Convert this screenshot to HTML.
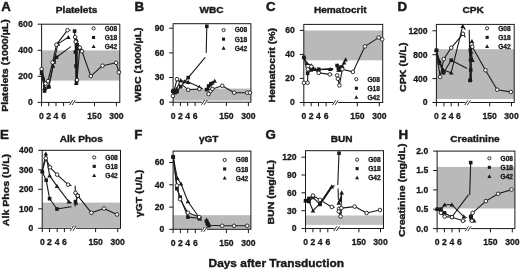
<!DOCTYPE html>
<html lang="en">
<head>
<meta charset="utf-8">
<title>Days after Transduction</title>
<style>
html,body{margin:0;padding:0;background:#fff;}
body{width:520px;height:271px;overflow:hidden;}
svg{display:block;}
svg text{font-family:"Liberation Sans",Arial,Helvetica,sans-serif;font-weight:700;stroke:#1a1a1a;stroke-linejoin:round;}
</style>
</head>
<body>
<svg width="520" height="271" viewBox="0 0 520 271" fill="#1a1a1a">
<rect x="0" y="0" width="520" height="271" fill="#fff"/>
<rect x="41.6" y="50.4" width="78.2" height="30.2" fill="#b9b9b9"/>
<rect x="41.6" y="24.2" width="78.2" height="78.2" fill="none" stroke="#1a1a1a" stroke-width="1"/>
<line x1="37.6" y1="24.2" x2="41.6" y2="24.2" stroke="#1a1a1a" stroke-width="1"/>
<text x="32.7" y="27.1" font-size="8.6" text-anchor="end" stroke-width="0.3">600</text>
<line x1="37.6" y1="50.3" x2="41.6" y2="50.3" stroke="#1a1a1a" stroke-width="1"/>
<text x="32.7" y="53.2" font-size="8.6" text-anchor="end" stroke-width="0.3">400</text>
<line x1="37.6" y1="76.3" x2="41.6" y2="76.3" stroke="#1a1a1a" stroke-width="1"/>
<text x="32.7" y="79.2" font-size="8.6" text-anchor="end" stroke-width="0.3">200</text>
<line x1="37.6" y1="102.4" x2="41.6" y2="102.4" stroke="#1a1a1a" stroke-width="1"/>
<text x="32.7" y="105.3" font-size="8.6" text-anchor="end" stroke-width="0.3">0</text>
<line x1="41.5" y1="102.4" x2="41.5" y2="106.2" stroke="#1a1a1a" stroke-width="1"/>
<text x="41.5" y="118.7" font-size="8.6" text-anchor="middle" stroke-width="0.3">0</text>
<line x1="48.7" y1="102.4" x2="48.7" y2="106.2" stroke="#1a1a1a" stroke-width="1"/>
<text x="48.7" y="118.7" font-size="8.6" text-anchor="middle" stroke-width="0.3">2</text>
<line x1="56" y1="102.4" x2="56" y2="106.2" stroke="#1a1a1a" stroke-width="1"/>
<text x="56" y="118.7" font-size="8.6" text-anchor="middle" stroke-width="0.3">4</text>
<line x1="63.6" y1="102.4" x2="63.6" y2="106.2" stroke="#1a1a1a" stroke-width="1"/>
<text x="63.6" y="118.7" font-size="8.6" text-anchor="middle" stroke-width="0.3">6</text>
<line x1="94.5" y1="102.4" x2="94.5" y2="106.2" stroke="#1a1a1a" stroke-width="1"/>
<text x="94.5" y="118.7" font-size="8.6" text-anchor="middle" stroke-width="0.3">150</text>
<line x1="116.4" y1="102.4" x2="116.4" y2="106.2" stroke="#1a1a1a" stroke-width="1"/>
<text x="116.4" y="118.7" font-size="8.6" text-anchor="middle" stroke-width="0.3">300</text>
<rect x="70.2" y="101.2" width="5" height="2.4" fill="#fff"/>
<line x1="69.5" y1="105" x2="72.7" y2="100.2" stroke="#1a1a1a" stroke-width="0.9"/>
<line x1="72.1" y1="105" x2="75.3" y2="100.2" stroke="#1a1a1a" stroke-width="0.9"/>
<polyline points="41.6,69 45.5,83.6 48,81 52.6,62.5 56.5,44.7 67.5,30.2 70.2,30.2" fill="none" stroke="#1a1a1a" stroke-width="1.1" stroke-linejoin="round" stroke-linecap="round"/>
<polyline points="75.2,37 75.7,41.7 77,80 79.8,47.6 82,51.3 90.8,76.1 102.5,65.7 116.1,62.8 118.9,72.3" fill="none" stroke="#1a1a1a" stroke-width="1.1" stroke-linejoin="round" stroke-linecap="round"/>
<polyline points="41.6,72 44.6,91 48.8,87 54,62 56.5,57.2 70.5,46.9" fill="none" stroke="#1a1a1a" stroke-width="1.1" stroke-linejoin="round" stroke-linecap="round"/>
<polyline points="74.6,31.1 75.4,52 76,66 76.5,82 77.2,45 78.3,48.5" fill="none" stroke="#1a1a1a" stroke-width="1.1" stroke-linejoin="round" stroke-linecap="round"/>
<polyline points="41.6,73.3 44.6,88 48.8,86 53,66 57.9,43.9 68.3,37.3" fill="none" stroke="#1a1a1a" stroke-width="1.1" stroke-linejoin="round" stroke-linecap="round"/>
<polyline points="76.2,83.1 76.6,40 78.6,46 80.4,48" fill="none" stroke="#1a1a1a" stroke-width="1.1" stroke-linejoin="round" stroke-linecap="round"/>
<polyline points="76.2,47 76.6,82" fill="none" stroke="#1a1a1a" stroke-width="2.2" stroke-linejoin="round" stroke-linecap="round"/>
<polyline points="43.6,78 44.8,90" fill="none" stroke="#1a1a1a" stroke-width="1.8" stroke-linejoin="round" stroke-linecap="round"/>
<rect x="39.8" y="70.2" width="3.6" height="3.6" fill="#1a1a1a"/>
<rect x="42.8" y="89.2" width="3.6" height="3.6" fill="#1a1a1a"/>
<rect x="47" y="85.2" width="3.6" height="3.6" fill="#1a1a1a"/>
<rect x="52.2" y="60.2" width="3.6" height="3.6" fill="#1a1a1a"/>
<rect x="54.7" y="55.4" width="3.6" height="3.6" fill="#1a1a1a"/>
<rect x="72.8" y="29.3" width="3.6" height="3.6" fill="#1a1a1a"/>
<rect x="73.6" y="50.2" width="3.6" height="3.6" fill="#1a1a1a"/>
<rect x="74.2" y="64.2" width="3.6" height="3.6" fill="#1a1a1a"/>
<rect x="74.7" y="80.2" width="3.6" height="3.6" fill="#1a1a1a"/>
<rect x="75.4" y="43.2" width="3.6" height="3.6" fill="#1a1a1a"/>
<rect x="76.5" y="46.7" width="3.6" height="3.6" fill="#1a1a1a"/>
<polygon points="41.6,71 39.3,75.1 43.9,75.1" fill="#1a1a1a"/>
<polygon points="44.6,85.7 42.3,89.8 46.9,89.8" fill="#1a1a1a"/>
<polygon points="48.8,83.7 46.5,87.8 51.1,87.8" fill="#1a1a1a"/>
<polygon points="53,63.7 50.7,67.8 55.3,67.8" fill="#1a1a1a"/>
<polygon points="57.9,41.6 55.6,45.7 60.2,45.7" fill="#1a1a1a"/>
<polygon points="68.3,35 66,39.1 70.6,39.1" fill="#1a1a1a"/>
<polygon points="76.2,80.8 73.9,84.9 78.5,84.9" fill="#1a1a1a"/>
<polygon points="76.6,37.7 74.3,41.8 78.9,41.8" fill="#1a1a1a"/>
<polygon points="78.6,43.7 76.3,47.8 80.9,47.8" fill="#1a1a1a"/>
<polygon points="80.4,45.7 78.1,49.8 82.7,49.8" fill="#1a1a1a"/>
<circle cx="41.6" cy="69" r="1.8" fill="#fff" stroke="#1a1a1a" stroke-width="0.9"/>
<circle cx="45.5" cy="83.6" r="1.8" fill="#fff" stroke="#1a1a1a" stroke-width="0.9"/>
<circle cx="48" cy="81" r="1.8" fill="#fff" stroke="#1a1a1a" stroke-width="0.9"/>
<circle cx="52.6" cy="62.5" r="1.8" fill="#fff" stroke="#1a1a1a" stroke-width="0.9"/>
<circle cx="56.5" cy="44.7" r="1.8" fill="#fff" stroke="#1a1a1a" stroke-width="0.9"/>
<circle cx="67.5" cy="30.2" r="1.8" fill="#fff" stroke="#1a1a1a" stroke-width="0.9"/>
<circle cx="75.2" cy="37" r="1.8" fill="#fff" stroke="#1a1a1a" stroke-width="0.9"/>
<circle cx="75.7" cy="41.7" r="1.8" fill="#fff" stroke="#1a1a1a" stroke-width="0.9"/>
<circle cx="77" cy="80" r="1.8" fill="#fff" stroke="#1a1a1a" stroke-width="0.9"/>
<circle cx="79.8" cy="47.6" r="1.8" fill="#fff" stroke="#1a1a1a" stroke-width="0.9"/>
<circle cx="82" cy="51.3" r="1.8" fill="#fff" stroke="#1a1a1a" stroke-width="0.9"/>
<circle cx="90.8" cy="76.1" r="1.8" fill="#fff" stroke="#1a1a1a" stroke-width="0.9"/>
<circle cx="102.5" cy="65.7" r="1.8" fill="#fff" stroke="#1a1a1a" stroke-width="0.9"/>
<circle cx="116.1" cy="62.8" r="1.8" fill="#fff" stroke="#1a1a1a" stroke-width="0.9"/>
<circle cx="118.9" cy="72.3" r="1.8" fill="#fff" stroke="#1a1a1a" stroke-width="0.9"/>
<circle cx="93.6" cy="28.4" r="1.6" fill="#fff" stroke="#1a1a1a" stroke-width="0.9"/>
<text x="104.7" y="30.6" font-size="6.6" text-anchor="start" stroke-width="0.3">G08</text>
<rect x="92" y="35.9" width="3.1" height="3.1" fill="#1a1a1a"/>
<text x="104.7" y="39.9" font-size="6.6" text-anchor="start" stroke-width="0.3">G18</text>
<polygon points="93.6,44.4 91.6,48 95.6,48" fill="#1a1a1a"/>
<text x="104.7" y="49.1" font-size="6.6" text-anchor="start" stroke-width="0.3">G42</text>
<text transform="translate(76.6,13.3) scale(1.035,1)" font-size="9.76" text-anchor="middle" stroke-width="0.4">Platelets</text>
<text x="1.2" y="11" font-size="13.3" text-anchor="start" stroke-width="0.5">A</text>
<text transform="translate(8.1,65.5) rotate(-90) scale(1.075,1)" font-size="9.86" text-anchor="middle" stroke-width="0.4">Platelets (1000/µL)</text>
<rect x="173.1" y="88.6" width="77.8" height="11.9" fill="#b9b9b9"/>
<rect x="173.1" y="23.7" width="77.8" height="78.5" fill="none" stroke="#1a1a1a" stroke-width="1"/>
<line x1="169.1" y1="28.2" x2="173.1" y2="28.2" stroke="#1a1a1a" stroke-width="1"/>
<text x="164.2" y="31.1" font-size="8.6" text-anchor="end" stroke-width="0.3">90</text>
<line x1="169.1" y1="52.9" x2="173.1" y2="52.9" stroke="#1a1a1a" stroke-width="1"/>
<text x="164.2" y="55.8" font-size="8.6" text-anchor="end" stroke-width="0.3">60</text>
<line x1="169.1" y1="77.5" x2="173.1" y2="77.5" stroke="#1a1a1a" stroke-width="1"/>
<text x="164.2" y="80.4" font-size="8.6" text-anchor="end" stroke-width="0.3">30</text>
<line x1="169.1" y1="102.2" x2="173.1" y2="102.2" stroke="#1a1a1a" stroke-width="1"/>
<text x="164.2" y="105.1" font-size="8.6" text-anchor="end" stroke-width="0.3">0</text>
<line x1="173.1" y1="102.2" x2="173.1" y2="106" stroke="#1a1a1a" stroke-width="1"/>
<text x="173.1" y="118.5" font-size="8.6" text-anchor="middle" stroke-width="0.3">0</text>
<line x1="180.4" y1="102.2" x2="180.4" y2="106" stroke="#1a1a1a" stroke-width="1"/>
<text x="180.4" y="118.5" font-size="8.6" text-anchor="middle" stroke-width="0.3">2</text>
<line x1="187.7" y1="102.2" x2="187.7" y2="106" stroke="#1a1a1a" stroke-width="1"/>
<text x="187.7" y="118.5" font-size="8.6" text-anchor="middle" stroke-width="0.3">4</text>
<line x1="195.1" y1="102.2" x2="195.1" y2="106" stroke="#1a1a1a" stroke-width="1"/>
<text x="195.1" y="118.5" font-size="8.6" text-anchor="middle" stroke-width="0.3">6</text>
<line x1="226.4" y1="102.2" x2="226.4" y2="106" stroke="#1a1a1a" stroke-width="1"/>
<text x="226.4" y="118.5" font-size="8.6" text-anchor="middle" stroke-width="0.3">150</text>
<line x1="248.4" y1="102.2" x2="248.4" y2="106" stroke="#1a1a1a" stroke-width="1"/>
<text x="248.4" y="118.5" font-size="8.6" text-anchor="middle" stroke-width="0.3">300</text>
<rect x="202.2" y="101" width="5" height="2.4" fill="#fff"/>
<line x1="201.5" y1="104.8" x2="204.7" y2="100" stroke="#1a1a1a" stroke-width="0.9"/>
<line x1="204.1" y1="104.8" x2="207.3" y2="100" stroke="#1a1a1a" stroke-width="0.9"/>
<polyline points="172.8,96 177,79.2 180.9,83.6 188.2,89.8 199.4,89 201.6,88.5" fill="none" stroke="#1a1a1a" stroke-width="1.1" stroke-linejoin="round" stroke-linecap="round"/>
<polyline points="208.6,94 210.5,91 212.4,89 222.2,85.8 234.2,92.7 247.2,92.7 249.9,92.7" fill="none" stroke="#1a1a1a" stroke-width="1.1" stroke-linejoin="round" stroke-linecap="round"/>
<polyline points="172.8,91.3 175,92.6 177,91.7 180.7,86.7 188.2,77.6 205,57.6" fill="none" stroke="#1a1a1a" stroke-width="1.1" stroke-linejoin="round" stroke-linecap="round"/>
<polyline points="206.2,52.5 206.8,26.3" fill="none" stroke="#1a1a1a" stroke-width="1.1" stroke-linejoin="round" stroke-linecap="round"/>
<polyline points="206.6,89.6 208.6,86 211,83.6" fill="none" stroke="#1a1a1a" stroke-width="1.1" stroke-linejoin="round" stroke-linecap="round"/>
<polyline points="172.8,90.2 174.5,91.6 176.5,89 180.7,80.4 184.7,81.5 188.2,82.1 199.4,87.1 202.2,88.6" fill="none" stroke="#1a1a1a" stroke-width="1.1" stroke-linejoin="round" stroke-linecap="round"/>
<polyline points="207.8,88.2 210,84.6 212.4,82.8 214.7,81" fill="none" stroke="#1a1a1a" stroke-width="1.1" stroke-linejoin="round" stroke-linecap="round"/>
<rect x="171" y="89.5" width="3.6" height="3.6" fill="#1a1a1a"/>
<rect x="173.2" y="90.8" width="3.6" height="3.6" fill="#1a1a1a"/>
<rect x="175.2" y="89.9" width="3.6" height="3.6" fill="#1a1a1a"/>
<rect x="178.9" y="84.9" width="3.6" height="3.6" fill="#1a1a1a"/>
<rect x="186.4" y="75.8" width="3.6" height="3.6" fill="#1a1a1a"/>
<rect x="205" y="24.5" width="3.6" height="3.6" fill="#1a1a1a"/>
<rect x="204.8" y="87.8" width="3.6" height="3.6" fill="#1a1a1a"/>
<rect x="206.8" y="84.2" width="3.6" height="3.6" fill="#1a1a1a"/>
<rect x="209.2" y="81.8" width="3.6" height="3.6" fill="#1a1a1a"/>
<polygon points="172.8,87.9 170.5,92 175.1,92" fill="#1a1a1a"/>
<polygon points="174.5,89.3 172.2,93.4 176.8,93.4" fill="#1a1a1a"/>
<polygon points="176.5,86.7 174.2,90.8 178.8,90.8" fill="#1a1a1a"/>
<polygon points="180.7,78.1 178.4,82.2 183,82.2" fill="#1a1a1a"/>
<polygon points="184.7,79.2 182.4,83.3 187,83.3" fill="#1a1a1a"/>
<polygon points="188.2,79.8 185.9,83.9 190.5,83.9" fill="#1a1a1a"/>
<polygon points="199.4,84.8 197.1,88.9 201.7,88.9" fill="#1a1a1a"/>
<polygon points="207.8,85.9 205.5,90 210.1,90" fill="#1a1a1a"/>
<polygon points="210,82.3 207.7,86.4 212.3,86.4" fill="#1a1a1a"/>
<polygon points="212.4,80.5 210.1,84.6 214.7,84.6" fill="#1a1a1a"/>
<polygon points="214.7,78.7 212.4,82.8 217,82.8" fill="#1a1a1a"/>
<circle cx="172.8" cy="96" r="1.8" fill="#fff" stroke="#1a1a1a" stroke-width="0.9"/>
<circle cx="177" cy="79.2" r="1.8" fill="#fff" stroke="#1a1a1a" stroke-width="0.9"/>
<circle cx="180.9" cy="83.6" r="1.8" fill="#fff" stroke="#1a1a1a" stroke-width="0.9"/>
<circle cx="188.2" cy="89.8" r="1.8" fill="#fff" stroke="#1a1a1a" stroke-width="0.9"/>
<circle cx="199.4" cy="89" r="1.8" fill="#fff" stroke="#1a1a1a" stroke-width="0.9"/>
<circle cx="208.6" cy="94" r="1.8" fill="#fff" stroke="#1a1a1a" stroke-width="0.9"/>
<circle cx="210.5" cy="91" r="1.8" fill="#fff" stroke="#1a1a1a" stroke-width="0.9"/>
<circle cx="212.4" cy="89" r="1.8" fill="#fff" stroke="#1a1a1a" stroke-width="0.9"/>
<circle cx="222.2" cy="85.8" r="1.8" fill="#fff" stroke="#1a1a1a" stroke-width="0.9"/>
<circle cx="234.2" cy="92.7" r="1.8" fill="#fff" stroke="#1a1a1a" stroke-width="0.9"/>
<circle cx="247.2" cy="92.7" r="1.8" fill="#fff" stroke="#1a1a1a" stroke-width="0.9"/>
<circle cx="249.9" cy="92.7" r="1.8" fill="#fff" stroke="#1a1a1a" stroke-width="0.9"/>
<circle cx="223.6" cy="30.1" r="1.6" fill="#fff" stroke="#1a1a1a" stroke-width="0.9"/>
<text x="234.7" y="32.4" font-size="6.6" text-anchor="start" stroke-width="0.3">G08</text>
<rect x="222" y="37.6" width="3.1" height="3.1" fill="#1a1a1a"/>
<text x="234.7" y="41.6" font-size="6.6" text-anchor="start" stroke-width="0.3">G18</text>
<polygon points="223.6,46.1 221.6,49.7 225.6,49.7" fill="#1a1a1a"/>
<text x="234.7" y="50.9" font-size="6.6" text-anchor="start" stroke-width="0.3">G42</text>
<text transform="translate(211.6,13.3) scale(1.035,1)" font-size="9.76" text-anchor="middle" stroke-width="0.4">WBC</text>
<text x="134.5" y="11" font-size="13.3" text-anchor="start" stroke-width="0.5">B</text>
<text transform="translate(141.4,64.5) rotate(-90) scale(1.075,1)" font-size="9.86" text-anchor="middle" stroke-width="0.4">WBC (1000/µL)</text>
<rect x="303.8" y="30.5" width="78.9" height="29.8" fill="#b9b9b9"/>
<rect x="303.8" y="24.4" width="78.9" height="78.1" fill="none" stroke="#1a1a1a" stroke-width="1"/>
<line x1="299.8" y1="30.4" x2="303.8" y2="30.4" stroke="#1a1a1a" stroke-width="1"/>
<text x="294.9" y="33.3" font-size="8.6" text-anchor="end" stroke-width="0.3">60</text>
<line x1="299.8" y1="54.4" x2="303.8" y2="54.4" stroke="#1a1a1a" stroke-width="1"/>
<text x="294.9" y="57.3" font-size="8.6" text-anchor="end" stroke-width="0.3">40</text>
<line x1="299.8" y1="78.4" x2="303.8" y2="78.4" stroke="#1a1a1a" stroke-width="1"/>
<text x="294.9" y="81.3" font-size="8.6" text-anchor="end" stroke-width="0.3">20</text>
<line x1="299.8" y1="102.5" x2="303.8" y2="102.5" stroke="#1a1a1a" stroke-width="1"/>
<text x="294.9" y="105.4" font-size="8.6" text-anchor="end" stroke-width="0.3">0</text>
<line x1="303.9" y1="102.5" x2="303.9" y2="106.3" stroke="#1a1a1a" stroke-width="1"/>
<text x="303.9" y="118.8" font-size="8.6" text-anchor="middle" stroke-width="0.3">0</text>
<line x1="311.2" y1="102.5" x2="311.2" y2="106.3" stroke="#1a1a1a" stroke-width="1"/>
<text x="311.2" y="118.8" font-size="8.6" text-anchor="middle" stroke-width="0.3">2</text>
<line x1="318.5" y1="102.5" x2="318.5" y2="106.3" stroke="#1a1a1a" stroke-width="1"/>
<text x="318.5" y="118.8" font-size="8.6" text-anchor="middle" stroke-width="0.3">4</text>
<line x1="326.1" y1="102.5" x2="326.1" y2="106.3" stroke="#1a1a1a" stroke-width="1"/>
<text x="326.1" y="118.8" font-size="8.6" text-anchor="middle" stroke-width="0.3">6</text>
<line x1="357.3" y1="102.5" x2="357.3" y2="106.3" stroke="#1a1a1a" stroke-width="1"/>
<text x="357.3" y="118.8" font-size="8.6" text-anchor="middle" stroke-width="0.3">150</text>
<line x1="379.3" y1="102.5" x2="379.3" y2="106.3" stroke="#1a1a1a" stroke-width="1"/>
<text x="379.3" y="118.8" font-size="8.6" text-anchor="middle" stroke-width="0.3">300</text>
<rect x="333.1" y="101.3" width="5" height="2.4" fill="#fff"/>
<line x1="332.4" y1="105.1" x2="335.6" y2="100.3" stroke="#1a1a1a" stroke-width="0.9"/>
<line x1="335" y1="105.1" x2="338.2" y2="100.3" stroke="#1a1a1a" stroke-width="0.9"/>
<polyline points="303.9,82.8 307.6,82.8 307.8,69.4 311.3,66.6 318.7,72.9 329.8,74.4 332,74.6" fill="none" stroke="#1a1a1a" stroke-width="1.1" stroke-linejoin="round" stroke-linecap="round"/>
<polyline points="337.1,75.4 337.9,78.8 339.4,85.4 342.3,69.2 352.9,71.9 364.9,46.4 378.7,37.6 382.2,39.4" fill="none" stroke="#1a1a1a" stroke-width="1.1" stroke-linejoin="round" stroke-linecap="round"/>
<polyline points="303.9,57.4 307.6,73.3 311.3,69.9 318.7,69.2 332.7,68.5" fill="none" stroke="#1a1a1a" stroke-width="1.1" stroke-linejoin="round" stroke-linecap="round"/>
<polyline points="337.1,65.5 338.3,68 339.5,69.9 341,67" fill="none" stroke="#1a1a1a" stroke-width="1.1" stroke-linejoin="round" stroke-linecap="round"/>
<polyline points="303.9,57 306.9,63.3 311.3,65.5 315,69.2 318.7,69.8 330.2,69.2 332.7,69.4" fill="none" stroke="#1a1a1a" stroke-width="1.1" stroke-linejoin="round" stroke-linecap="round"/>
<polyline points="338.5,70 340.8,69.2 342.3,66.2 344.1,62.6 345.6,59.6" fill="none" stroke="#1a1a1a" stroke-width="1.1" stroke-linejoin="round" stroke-linecap="round"/>
<rect x="302.1" y="55.6" width="3.6" height="3.6" fill="#1a1a1a"/>
<rect x="305.8" y="71.5" width="3.6" height="3.6" fill="#1a1a1a"/>
<rect x="309.5" y="68.1" width="3.6" height="3.6" fill="#1a1a1a"/>
<rect x="316.9" y="67.4" width="3.6" height="3.6" fill="#1a1a1a"/>
<rect x="335.3" y="63.7" width="3.6" height="3.6" fill="#1a1a1a"/>
<rect x="336.5" y="66.2" width="3.6" height="3.6" fill="#1a1a1a"/>
<rect x="337.7" y="68.1" width="3.6" height="3.6" fill="#1a1a1a"/>
<rect x="339.2" y="65.2" width="3.6" height="3.6" fill="#1a1a1a"/>
<polygon points="303.9,54.7 301.6,58.8 306.2,58.8" fill="#1a1a1a"/>
<polygon points="306.9,61 304.6,65.1 309.2,65.1" fill="#1a1a1a"/>
<polygon points="311.3,63.2 309,67.3 313.6,67.3" fill="#1a1a1a"/>
<polygon points="315,66.9 312.7,71 317.3,71" fill="#1a1a1a"/>
<polygon points="318.7,67.5 316.4,71.6 321,71.6" fill="#1a1a1a"/>
<polygon points="330.2,66.9 327.9,71 332.5,71" fill="#1a1a1a"/>
<polygon points="338.5,67.7 336.2,71.8 340.8,71.8" fill="#1a1a1a"/>
<polygon points="340.8,66.9 338.5,71 343.1,71" fill="#1a1a1a"/>
<polygon points="342.3,63.9 340,68 344.6,68" fill="#1a1a1a"/>
<polygon points="344.1,60.3 341.8,64.4 346.4,64.4" fill="#1a1a1a"/>
<polygon points="345.6,57.3 343.3,61.4 347.9,61.4" fill="#1a1a1a"/>
<circle cx="303.9" cy="82.8" r="1.8" fill="#fff" stroke="#1a1a1a" stroke-width="0.9"/>
<circle cx="307.6" cy="82.8" r="1.8" fill="#fff" stroke="#1a1a1a" stroke-width="0.9"/>
<circle cx="307.8" cy="69.4" r="1.8" fill="#fff" stroke="#1a1a1a" stroke-width="0.9"/>
<circle cx="311.3" cy="66.6" r="1.8" fill="#fff" stroke="#1a1a1a" stroke-width="0.9"/>
<circle cx="318.7" cy="72.9" r="1.8" fill="#fff" stroke="#1a1a1a" stroke-width="0.9"/>
<circle cx="329.8" cy="74.4" r="1.8" fill="#fff" stroke="#1a1a1a" stroke-width="0.9"/>
<circle cx="337.1" cy="75.4" r="1.8" fill="#fff" stroke="#1a1a1a" stroke-width="0.9"/>
<circle cx="337.9" cy="78.8" r="1.8" fill="#fff" stroke="#1a1a1a" stroke-width="0.9"/>
<circle cx="339.4" cy="85.4" r="1.8" fill="#fff" stroke="#1a1a1a" stroke-width="0.9"/>
<circle cx="342.3" cy="69.2" r="1.8" fill="#fff" stroke="#1a1a1a" stroke-width="0.9"/>
<circle cx="352.9" cy="71.9" r="1.8" fill="#fff" stroke="#1a1a1a" stroke-width="0.9"/>
<circle cx="364.9" cy="46.4" r="1.8" fill="#fff" stroke="#1a1a1a" stroke-width="0.9"/>
<circle cx="378.7" cy="37.6" r="1.8" fill="#fff" stroke="#1a1a1a" stroke-width="0.9"/>
<circle cx="382.2" cy="39.4" r="1.8" fill="#fff" stroke="#1a1a1a" stroke-width="0.9"/>
<circle cx="356.3" cy="79.2" r="1.6" fill="#fff" stroke="#1a1a1a" stroke-width="0.9"/>
<text x="367.4" y="81.5" font-size="6.6" text-anchor="start" stroke-width="0.3">G08</text>
<rect x="354.8" y="86.7" width="3.1" height="3.1" fill="#1a1a1a"/>
<text x="367.4" y="90.7" font-size="6.6" text-anchor="start" stroke-width="0.3">G18</text>
<polygon points="356.3,95.2 354.3,98.8 358.3,98.8" fill="#1a1a1a"/>
<text x="367.4" y="100" font-size="6.6" text-anchor="start" stroke-width="0.3">G42</text>
<text transform="translate(340.3,13.3) scale(1.035,1)" font-size="9.76" text-anchor="middle" stroke-width="0.4">Hematocrit</text>
<text x="265.9" y="11" font-size="13.3" text-anchor="start" stroke-width="0.5">C</text>
<text transform="translate(274.5,65.2) rotate(-90) scale(1.075,1)" font-size="9.86" text-anchor="middle" stroke-width="0.4">Hematocrit (%)</text>
<rect x="436.4" y="49.2" width="77.8" height="49.8" fill="#b9b9b9"/>
<rect x="436.4" y="24.4" width="77.8" height="78.1" fill="none" stroke="#1a1a1a" stroke-width="1"/>
<line x1="432.4" y1="30.8" x2="436.4" y2="30.8" stroke="#1a1a1a" stroke-width="1"/>
<text x="427.5" y="33.7" font-size="8.6" text-anchor="end" stroke-width="0.3">1200</text>
<line x1="432.4" y1="54.7" x2="436.4" y2="54.7" stroke="#1a1a1a" stroke-width="1"/>
<text x="427.5" y="57.6" font-size="8.6" text-anchor="end" stroke-width="0.3">800</text>
<line x1="432.4" y1="78.6" x2="436.4" y2="78.6" stroke="#1a1a1a" stroke-width="1"/>
<text x="427.5" y="81.5" font-size="8.6" text-anchor="end" stroke-width="0.3">400</text>
<line x1="432.4" y1="102.5" x2="436.4" y2="102.5" stroke="#1a1a1a" stroke-width="1"/>
<text x="427.5" y="105.4" font-size="8.6" text-anchor="end" stroke-width="0.3">0</text>
<line x1="436.4" y1="102.5" x2="436.4" y2="106.3" stroke="#1a1a1a" stroke-width="1"/>
<text x="436.4" y="118.8" font-size="8.6" text-anchor="middle" stroke-width="0.3">0</text>
<line x1="443.9" y1="102.5" x2="443.9" y2="106.3" stroke="#1a1a1a" stroke-width="1"/>
<text x="443.9" y="118.8" font-size="8.6" text-anchor="middle" stroke-width="0.3">2</text>
<line x1="451.2" y1="102.5" x2="451.2" y2="106.3" stroke="#1a1a1a" stroke-width="1"/>
<text x="451.2" y="118.8" font-size="8.6" text-anchor="middle" stroke-width="0.3">4</text>
<line x1="458.4" y1="102.5" x2="458.4" y2="106.3" stroke="#1a1a1a" stroke-width="1"/>
<text x="458.4" y="118.8" font-size="8.6" text-anchor="middle" stroke-width="0.3">6</text>
<line x1="489.7" y1="102.5" x2="489.7" y2="106.3" stroke="#1a1a1a" stroke-width="1"/>
<text x="489.7" y="118.8" font-size="8.6" text-anchor="middle" stroke-width="0.3">150</text>
<line x1="511.5" y1="102.5" x2="511.5" y2="106.3" stroke="#1a1a1a" stroke-width="1"/>
<text x="511.5" y="118.8" font-size="8.6" text-anchor="middle" stroke-width="0.3">300</text>
<rect x="465.4" y="101.3" width="5" height="2.4" fill="#fff"/>
<line x1="464.7" y1="105.1" x2="467.9" y2="100.3" stroke="#1a1a1a" stroke-width="0.9"/>
<line x1="467.3" y1="105.1" x2="470.5" y2="100.3" stroke="#1a1a1a" stroke-width="0.9"/>
<polyline points="436.6,52 440.1,76.9 443.8,59.1 451.2,47.8 463,33.8 465.2,36.8" fill="none" stroke="#1a1a1a" stroke-width="1.1" stroke-linejoin="round" stroke-linecap="round"/>
<polyline points="471.5,44.2 472.3,46.8 485.5,70.2 497.2,89.7 510.8,92" fill="none" stroke="#1a1a1a" stroke-width="1.1" stroke-linejoin="round" stroke-linecap="round"/>
<polyline points="436.4,50.3 439.4,63.1 443.5,72.7 451.2,60.2 466.7,68.3" fill="none" stroke="#1a1a1a" stroke-width="1.1" stroke-linejoin="round" stroke-linecap="round"/>
<polyline points="469.2,30.1 469.7,56" fill="none" stroke="#1a1a1a" stroke-width="1.1" stroke-linejoin="round" stroke-linecap="round"/>
<polyline points="470.4,50 470.6,60 470.7,70 470.1,80.4" fill="none" stroke="#1a1a1a" stroke-width="1.1" stroke-linejoin="round" stroke-linecap="round"/>
<polyline points="436.4,50.3 439.4,60.9 443.3,70 451.2,72.7 462.7,26.1 465.2,29.4" fill="none" stroke="#1a1a1a" stroke-width="1.1" stroke-linejoin="round" stroke-linecap="round"/>
<polyline points="471.9,41.2 471.2,52 472.6,60.2" fill="none" stroke="#1a1a1a" stroke-width="1.1" stroke-linejoin="round" stroke-linecap="round"/>
<polyline points="470.5,44 470.7,80" fill="none" stroke="#1a1a1a" stroke-width="2.4" stroke-linejoin="round" stroke-linecap="round"/>
<circle cx="436.5" cy="50.4" r="2" fill="#1a1a1a"/>
<circle cx="470.3" cy="80.3" r="2" fill="#1a1a1a"/>
<circle cx="443.5" cy="72.6" r="2" fill="#1a1a1a"/>
<rect x="434.6" y="48.5" width="3.6" height="3.6" fill="#1a1a1a"/>
<rect x="437.6" y="61.3" width="3.6" height="3.6" fill="#1a1a1a"/>
<rect x="441.7" y="70.9" width="3.6" height="3.6" fill="#1a1a1a"/>
<rect x="449.4" y="58.4" width="3.6" height="3.6" fill="#1a1a1a"/>
<rect x="468.6" y="48.2" width="3.6" height="3.6" fill="#1a1a1a"/>
<rect x="468.8" y="58.2" width="3.6" height="3.6" fill="#1a1a1a"/>
<rect x="468.9" y="68.2" width="3.6" height="3.6" fill="#1a1a1a"/>
<rect x="468.3" y="78.6" width="3.6" height="3.6" fill="#1a1a1a"/>
<polygon points="436.4,48 434.1,52.1 438.7,52.1" fill="#1a1a1a"/>
<polygon points="439.4,58.6 437.1,62.7 441.7,62.7" fill="#1a1a1a"/>
<polygon points="443.3,67.7 441,71.8 445.6,71.8" fill="#1a1a1a"/>
<polygon points="451.2,70.4 448.9,74.5 453.5,74.5" fill="#1a1a1a"/>
<polygon points="462.7,23.8 460.4,27.9 465,27.9" fill="#1a1a1a"/>
<polygon points="471.9,38.9 469.6,43 474.2,43" fill="#1a1a1a"/>
<polygon points="471.2,49.7 468.9,53.8 473.5,53.8" fill="#1a1a1a"/>
<polygon points="472.6,57.9 470.3,62 474.9,62" fill="#1a1a1a"/>
<circle cx="440.1" cy="76.9" r="1.8" fill="#fff" stroke="#1a1a1a" stroke-width="0.9"/>
<circle cx="443.8" cy="59.1" r="1.8" fill="#fff" stroke="#1a1a1a" stroke-width="0.9"/>
<circle cx="451.2" cy="47.8" r="1.8" fill="#fff" stroke="#1a1a1a" stroke-width="0.9"/>
<circle cx="463" cy="33.8" r="1.8" fill="#fff" stroke="#1a1a1a" stroke-width="0.9"/>
<circle cx="471.5" cy="44.2" r="1.8" fill="#fff" stroke="#1a1a1a" stroke-width="0.9"/>
<circle cx="472.3" cy="46.8" r="1.8" fill="#fff" stroke="#1a1a1a" stroke-width="0.9"/>
<circle cx="485.5" cy="70.2" r="1.8" fill="#fff" stroke="#1a1a1a" stroke-width="0.9"/>
<circle cx="497.2" cy="89.7" r="1.8" fill="#fff" stroke="#1a1a1a" stroke-width="0.9"/>
<circle cx="510.8" cy="92" r="1.8" fill="#fff" stroke="#1a1a1a" stroke-width="0.9"/>
<circle cx="487.1" cy="28.3" r="1.6" fill="#fff" stroke="#1a1a1a" stroke-width="0.9"/>
<text x="498.2" y="30.6" font-size="6.6" text-anchor="start" stroke-width="0.3">G08</text>
<rect x="485.6" y="35.8" width="3.1" height="3.1" fill="#1a1a1a"/>
<text x="498.2" y="39.8" font-size="6.6" text-anchor="start" stroke-width="0.3">G18</text>
<polygon points="487.1,44.3 485.1,47.9 489.1,47.9" fill="#1a1a1a"/>
<text x="498.2" y="49" font-size="6.6" text-anchor="start" stroke-width="0.3">G42</text>
<text transform="translate(473.1,13.3) scale(1.035,1)" font-size="9.76" text-anchor="middle" stroke-width="0.4">CPK</text>
<text x="397.5" y="11" font-size="13.3" text-anchor="start" stroke-width="0.5">D</text>
<text transform="translate(405.7,67.2) rotate(-90) scale(1.075,1)" font-size="9.86" text-anchor="middle" stroke-width="0.4">CPK (U/L)</text>
<rect x="42.2" y="202.6" width="78.3" height="24.7" fill="#b9b9b9"/>
<rect x="42.2" y="150.3" width="78.3" height="78" fill="none" stroke="#1a1a1a" stroke-width="1"/>
<line x1="38.2" y1="150.3" x2="42.2" y2="150.3" stroke="#1a1a1a" stroke-width="1"/>
<text x="33.3" y="153.2" font-size="8.6" text-anchor="end" stroke-width="0.3">400</text>
<line x1="38.2" y1="169.8" x2="42.2" y2="169.8" stroke="#1a1a1a" stroke-width="1"/>
<text x="33.3" y="172.7" font-size="8.6" text-anchor="end" stroke-width="0.3">300</text>
<line x1="38.2" y1="189.3" x2="42.2" y2="189.3" stroke="#1a1a1a" stroke-width="1"/>
<text x="33.3" y="192.2" font-size="8.6" text-anchor="end" stroke-width="0.3">200</text>
<line x1="38.2" y1="208.8" x2="42.2" y2="208.8" stroke="#1a1a1a" stroke-width="1"/>
<text x="33.3" y="211.7" font-size="8.6" text-anchor="end" stroke-width="0.3">100</text>
<line x1="38.2" y1="228.3" x2="42.2" y2="228.3" stroke="#1a1a1a" stroke-width="1"/>
<text x="33.3" y="231.2" font-size="8.6" text-anchor="end" stroke-width="0.3">0</text>
<line x1="42.3" y1="228.3" x2="42.3" y2="232.1" stroke="#1a1a1a" stroke-width="1"/>
<text x="42.3" y="244.6" font-size="8.6" text-anchor="middle" stroke-width="0.3">0</text>
<line x1="49.5" y1="228.3" x2="49.5" y2="232.1" stroke="#1a1a1a" stroke-width="1"/>
<text x="49.5" y="244.6" font-size="8.6" text-anchor="middle" stroke-width="0.3">2</text>
<line x1="57.2" y1="228.3" x2="57.2" y2="232.1" stroke="#1a1a1a" stroke-width="1"/>
<text x="57.2" y="244.6" font-size="8.6" text-anchor="middle" stroke-width="0.3">4</text>
<line x1="64.4" y1="228.3" x2="64.4" y2="232.1" stroke="#1a1a1a" stroke-width="1"/>
<text x="64.4" y="244.6" font-size="8.6" text-anchor="middle" stroke-width="0.3">6</text>
<line x1="95.6" y1="228.3" x2="95.6" y2="232.1" stroke="#1a1a1a" stroke-width="1"/>
<text x="95.6" y="244.6" font-size="8.6" text-anchor="middle" stroke-width="0.3">150</text>
<line x1="117.7" y1="228.3" x2="117.7" y2="232.1" stroke="#1a1a1a" stroke-width="1"/>
<text x="117.7" y="244.6" font-size="8.6" text-anchor="middle" stroke-width="0.3">300</text>
<rect x="71" y="227.1" width="5" height="2.4" fill="#fff"/>
<line x1="70.3" y1="230.9" x2="73.5" y2="226.1" stroke="#1a1a1a" stroke-width="0.9"/>
<line x1="72.9" y1="230.9" x2="76.1" y2="226.1" stroke="#1a1a1a" stroke-width="0.9"/>
<polyline points="42.3,170.9 45.8,158.3 50,167.3 57.1,174.6 68.1,184.6 71,185.4" fill="none" stroke="#1a1a1a" stroke-width="1.1" stroke-linejoin="round" stroke-linecap="round"/>
<polyline points="75.5,192.8 77.7,195.7 91.4,212.8 104,208.5 117,214.5" fill="none" stroke="#1a1a1a" stroke-width="1.1" stroke-linejoin="round" stroke-linecap="round"/>
<polyline points="42.3,171.7 46.2,180.2 49.6,198.7 57,209 71,206.8" fill="none" stroke="#1a1a1a" stroke-width="1.1" stroke-linejoin="round" stroke-linecap="round"/>
<polyline points="75.2,186.1 75.3,192" fill="none" stroke="#1a1a1a" stroke-width="1.1" stroke-linejoin="round" stroke-linecap="round"/>
<polyline points="77.9,196.2 75.5,201.6 75.2,206.1" fill="none" stroke="#1a1a1a" stroke-width="1.1" stroke-linejoin="round" stroke-linecap="round"/>
<polyline points="42.3,171 45.8,153.8 49.6,175.6 57,186.1 68.8,201.6 71.3,202.8" fill="none" stroke="#1a1a1a" stroke-width="1.1" stroke-linejoin="round" stroke-linecap="round"/>
<polyline points="77.3,195 76,203" fill="none" stroke="#1a1a1a" stroke-width="1.1" stroke-linejoin="round" stroke-linecap="round"/>
<circle cx="77.8" cy="195.8" r="2" fill="#1a1a1a"/>
<rect x="40.5" y="169.9" width="3.6" height="3.6" fill="#1a1a1a"/>
<rect x="44.4" y="178.4" width="3.6" height="3.6" fill="#1a1a1a"/>
<rect x="47.8" y="196.9" width="3.6" height="3.6" fill="#1a1a1a"/>
<rect x="55.2" y="207.2" width="3.6" height="3.6" fill="#1a1a1a"/>
<rect x="76.1" y="194.4" width="3.6" height="3.6" fill="#1a1a1a"/>
<rect x="73.7" y="199.8" width="3.6" height="3.6" fill="#1a1a1a"/>
<polygon points="42.3,168.7 40,172.8 44.6,172.8" fill="#1a1a1a"/>
<polygon points="45.8,151.5 43.5,155.6 48.1,155.6" fill="#1a1a1a"/>
<polygon points="49.6,173.3 47.3,177.4 51.9,177.4" fill="#1a1a1a"/>
<polygon points="57,183.8 54.7,187.9 59.3,187.9" fill="#1a1a1a"/>
<polygon points="68.8,199.3 66.5,203.4 71.1,203.4" fill="#1a1a1a"/>
<polygon points="77.3,192.7 75,196.8 79.6,196.8" fill="#1a1a1a"/>
<polygon points="76,200.7 73.7,204.8 78.3,204.8" fill="#1a1a1a"/>
<circle cx="45.8" cy="158.3" r="1.8" fill="#fff" stroke="#1a1a1a" stroke-width="0.9"/>
<circle cx="50" cy="167.3" r="1.8" fill="#fff" stroke="#1a1a1a" stroke-width="0.9"/>
<circle cx="57.1" cy="174.6" r="1.8" fill="#fff" stroke="#1a1a1a" stroke-width="0.9"/>
<circle cx="68.1" cy="184.6" r="1.8" fill="#fff" stroke="#1a1a1a" stroke-width="0.9"/>
<circle cx="75.5" cy="192.8" r="1.8" fill="#fff" stroke="#1a1a1a" stroke-width="0.9"/>
<circle cx="77.7" cy="195.7" r="1.8" fill="#fff" stroke="#1a1a1a" stroke-width="0.9"/>
<circle cx="91.4" cy="212.8" r="1.8" fill="#fff" stroke="#1a1a1a" stroke-width="0.9"/>
<circle cx="104" cy="208.5" r="1.8" fill="#fff" stroke="#1a1a1a" stroke-width="0.9"/>
<circle cx="117" cy="214.5" r="1.8" fill="#fff" stroke="#1a1a1a" stroke-width="0.9"/>
<circle cx="94.2" cy="157.4" r="1.6" fill="#fff" stroke="#1a1a1a" stroke-width="0.9"/>
<text x="105.3" y="159.7" font-size="6.6" text-anchor="start" stroke-width="0.3">G08</text>
<rect x="92.7" y="164.8" width="3.1" height="3.1" fill="#1a1a1a"/>
<text x="105.3" y="168.9" font-size="6.6" text-anchor="start" stroke-width="0.3">G18</text>
<polygon points="94.2,173.4 92.2,177 96.2,177" fill="#1a1a1a"/>
<text x="105.3" y="178.2" font-size="6.6" text-anchor="start" stroke-width="0.3">G42</text>
<text transform="translate(81.3,141.5) scale(1.035,1)" font-size="9.76" text-anchor="middle" stroke-width="0.4">Alk Phos</text>
<text x="0" y="138.8" font-size="13.3" text-anchor="start" stroke-width="0.5">E</text>
<text transform="translate(8.5,190) rotate(-90) scale(1.075,1)" font-size="9.86" text-anchor="middle" stroke-width="0.4">Alk Phos (U/L)</text>
<rect x="173.1" y="215.2" width="77.8" height="14.1" fill="#b9b9b9"/>
<rect x="173.1" y="151.1" width="77.8" height="78.2" fill="none" stroke="#1a1a1a" stroke-width="1"/>
<line x1="169.1" y1="162.5" x2="173.1" y2="162.5" stroke="#1a1a1a" stroke-width="1"/>
<text x="164.2" y="165.4" font-size="8.6" text-anchor="end" stroke-width="0.3">60</text>
<line x1="169.1" y1="184.8" x2="173.1" y2="184.8" stroke="#1a1a1a" stroke-width="1"/>
<text x="164.2" y="187.7" font-size="8.6" text-anchor="end" stroke-width="0.3">40</text>
<line x1="169.1" y1="207.1" x2="173.1" y2="207.1" stroke="#1a1a1a" stroke-width="1"/>
<text x="164.2" y="210" font-size="8.6" text-anchor="end" stroke-width="0.3">20</text>
<line x1="169.1" y1="229.3" x2="173.1" y2="229.3" stroke="#1a1a1a" stroke-width="1"/>
<text x="164.2" y="232.2" font-size="8.6" text-anchor="end" stroke-width="0.3">0</text>
<line x1="173.1" y1="229.3" x2="173.1" y2="233.1" stroke="#1a1a1a" stroke-width="1"/>
<text x="173.1" y="245.6" font-size="8.6" text-anchor="middle" stroke-width="0.3">0</text>
<line x1="180.4" y1="229.3" x2="180.4" y2="233.1" stroke="#1a1a1a" stroke-width="1"/>
<text x="180.4" y="245.6" font-size="8.6" text-anchor="middle" stroke-width="0.3">2</text>
<line x1="187.7" y1="229.3" x2="187.7" y2="233.1" stroke="#1a1a1a" stroke-width="1"/>
<text x="187.7" y="245.6" font-size="8.6" text-anchor="middle" stroke-width="0.3">4</text>
<line x1="195.3" y1="229.3" x2="195.3" y2="233.1" stroke="#1a1a1a" stroke-width="1"/>
<text x="195.3" y="245.6" font-size="8.6" text-anchor="middle" stroke-width="0.3">6</text>
<line x1="226.4" y1="229.3" x2="226.4" y2="233.1" stroke="#1a1a1a" stroke-width="1"/>
<text x="226.4" y="245.6" font-size="8.6" text-anchor="middle" stroke-width="0.3">150</text>
<line x1="248.4" y1="229.3" x2="248.4" y2="233.1" stroke="#1a1a1a" stroke-width="1"/>
<text x="248.4" y="245.6" font-size="8.6" text-anchor="middle" stroke-width="0.3">300</text>
<rect x="201.9" y="228.1" width="5" height="2.4" fill="#fff"/>
<line x1="201.2" y1="231.9" x2="204.4" y2="227.1" stroke="#1a1a1a" stroke-width="0.9"/>
<line x1="203.8" y1="231.9" x2="207" y2="227.1" stroke="#1a1a1a" stroke-width="0.9"/>
<polyline points="173.2,157 176.9,185.5 180.1,199.2 187.9,212.7 199.2,217.1 201.5,217.6" fill="none" stroke="#1a1a1a" stroke-width="1.1" stroke-linejoin="round" stroke-linecap="round"/>
<polyline points="207,222.5 208.4,225.2 222.2,225.8 234.1,225.8 247.2,225.8" fill="none" stroke="#1a1a1a" stroke-width="1.1" stroke-linejoin="round" stroke-linecap="round"/>
<polyline points="173.2,156.8 176.9,188.7 180.1,197.1 187.9,217.1 199.2,218.3" fill="none" stroke="#1a1a1a" stroke-width="1.1" stroke-linejoin="round" stroke-linecap="round"/>
<polyline points="206.6,221.4 207.6,224 208.7,225.7" fill="none" stroke="#1a1a1a" stroke-width="1.1" stroke-linejoin="round" stroke-linecap="round"/>
<polyline points="173.2,156.6 177.2,178.1 181,183.7 187.9,201.5 200,218.8" fill="none" stroke="#1a1a1a" stroke-width="1.1" stroke-linejoin="round" stroke-linecap="round"/>
<polyline points="206.6,219.8 207.4,223 208.9,225" fill="none" stroke="#1a1a1a" stroke-width="1.1" stroke-linejoin="round" stroke-linecap="round"/>
<circle cx="173.1" cy="156.9" r="2" fill="#1a1a1a"/>
<circle cx="207.9" cy="223.6" r="2" fill="#1a1a1a"/>
<rect x="171.4" y="155" width="3.6" height="3.6" fill="#1a1a1a"/>
<rect x="175.1" y="186.9" width="3.6" height="3.6" fill="#1a1a1a"/>
<rect x="178.3" y="195.3" width="3.6" height="3.6" fill="#1a1a1a"/>
<rect x="186.1" y="215.3" width="3.6" height="3.6" fill="#1a1a1a"/>
<rect x="197.4" y="216.5" width="3.6" height="3.6" fill="#1a1a1a"/>
<rect x="204.8" y="219.6" width="3.6" height="3.6" fill="#1a1a1a"/>
<rect x="205.8" y="222.2" width="3.6" height="3.6" fill="#1a1a1a"/>
<rect x="206.9" y="223.9" width="3.6" height="3.6" fill="#1a1a1a"/>
<polygon points="173.2,154.3 170.9,158.4 175.5,158.4" fill="#1a1a1a"/>
<polygon points="177.2,175.8 174.9,179.9 179.5,179.9" fill="#1a1a1a"/>
<polygon points="181,181.4 178.7,185.5 183.3,185.5" fill="#1a1a1a"/>
<polygon points="187.9,199.2 185.6,203.3 190.2,203.3" fill="#1a1a1a"/>
<polygon points="200,216.5 197.7,220.6 202.3,220.6" fill="#1a1a1a"/>
<polygon points="206.6,217.5 204.3,221.6 208.9,221.6" fill="#1a1a1a"/>
<polygon points="207.4,220.7 205.1,224.8 209.7,224.8" fill="#1a1a1a"/>
<polygon points="208.9,222.7 206.6,226.8 211.2,226.8" fill="#1a1a1a"/>
<circle cx="176.9" cy="185.5" r="1.8" fill="#fff" stroke="#1a1a1a" stroke-width="0.9"/>
<circle cx="180.1" cy="199.2" r="1.8" fill="#fff" stroke="#1a1a1a" stroke-width="0.9"/>
<circle cx="187.9" cy="212.7" r="1.8" fill="#fff" stroke="#1a1a1a" stroke-width="0.9"/>
<circle cx="199.2" cy="217.1" r="1.8" fill="#fff" stroke="#1a1a1a" stroke-width="0.9"/>
<circle cx="222.2" cy="225.8" r="1.8" fill="#fff" stroke="#1a1a1a" stroke-width="0.9"/>
<circle cx="234.1" cy="225.8" r="1.8" fill="#fff" stroke="#1a1a1a" stroke-width="0.9"/>
<circle cx="247.2" cy="225.8" r="1.8" fill="#fff" stroke="#1a1a1a" stroke-width="0.9"/>
<circle cx="224.7" cy="160" r="1.6" fill="#fff" stroke="#1a1a1a" stroke-width="0.9"/>
<text x="235.8" y="162.2" font-size="6.6" text-anchor="start" stroke-width="0.3">G08</text>
<rect x="223.1" y="167.4" width="3.1" height="3.1" fill="#1a1a1a"/>
<text x="235.8" y="171.5" font-size="6.6" text-anchor="start" stroke-width="0.3">G18</text>
<polygon points="224.7,176 222.7,179.6 226.7,179.6" fill="#1a1a1a"/>
<text x="235.8" y="180.8" font-size="6.6" text-anchor="start" stroke-width="0.3">G42</text>
<text transform="translate(208.7,141.5) scale(1.035,1)" font-size="9.76" text-anchor="middle" stroke-width="0.4">γGT</text>
<text x="134.2" y="138.8" font-size="13.3" text-anchor="start" stroke-width="0.5">F</text>
<text transform="translate(141.5,193.5) rotate(-90) scale(1.075,1)" font-size="9.86" text-anchor="middle" stroke-width="0.4">γGT (U/L)</text>
<rect x="305.5" y="215.5" width="78" height="9.4" fill="#bfbfbf"/>
<rect x="305.5" y="150.7" width="78" height="77.8" fill="none" stroke="#1a1a1a" stroke-width="1"/>
<line x1="301.5" y1="157.2" x2="305.5" y2="157.2" stroke="#1a1a1a" stroke-width="1"/>
<text x="296.6" y="160.1" font-size="8.6" text-anchor="end" stroke-width="0.3">120</text>
<line x1="301.5" y1="175" x2="305.5" y2="175" stroke="#1a1a1a" stroke-width="1"/>
<text x="296.6" y="177.9" font-size="8.6" text-anchor="end" stroke-width="0.3">90</text>
<line x1="301.5" y1="192.8" x2="305.5" y2="192.8" stroke="#1a1a1a" stroke-width="1"/>
<text x="296.6" y="195.7" font-size="8.6" text-anchor="end" stroke-width="0.3">60</text>
<line x1="301.5" y1="210.7" x2="305.5" y2="210.7" stroke="#1a1a1a" stroke-width="1"/>
<text x="296.6" y="213.6" font-size="8.6" text-anchor="end" stroke-width="0.3">30</text>
<line x1="301.5" y1="228.5" x2="305.5" y2="228.5" stroke="#1a1a1a" stroke-width="1"/>
<text x="296.6" y="231.4" font-size="8.6" text-anchor="end" stroke-width="0.3">0</text>
<line x1="305.6" y1="228.5" x2="305.6" y2="232.3" stroke="#1a1a1a" stroke-width="1"/>
<text x="305.6" y="244.8" font-size="8.6" text-anchor="middle" stroke-width="0.3">0</text>
<line x1="312.9" y1="228.5" x2="312.9" y2="232.3" stroke="#1a1a1a" stroke-width="1"/>
<text x="312.9" y="244.8" font-size="8.6" text-anchor="middle" stroke-width="0.3">2</text>
<line x1="320.2" y1="228.5" x2="320.2" y2="232.3" stroke="#1a1a1a" stroke-width="1"/>
<text x="320.2" y="244.8" font-size="8.6" text-anchor="middle" stroke-width="0.3">4</text>
<line x1="327.8" y1="228.5" x2="327.8" y2="232.3" stroke="#1a1a1a" stroke-width="1"/>
<text x="327.8" y="244.8" font-size="8.6" text-anchor="middle" stroke-width="0.3">6</text>
<line x1="358.9" y1="228.5" x2="358.9" y2="232.3" stroke="#1a1a1a" stroke-width="1"/>
<text x="358.9" y="244.8" font-size="8.6" text-anchor="middle" stroke-width="0.3">150</text>
<line x1="380.5" y1="228.5" x2="380.5" y2="232.3" stroke="#1a1a1a" stroke-width="1"/>
<text x="380.5" y="244.8" font-size="8.6" text-anchor="middle" stroke-width="0.3">300</text>
<rect x="334.4" y="227.3" width="5" height="2.4" fill="#fff"/>
<line x1="333.7" y1="231.1" x2="336.9" y2="226.3" stroke="#1a1a1a" stroke-width="0.9"/>
<line x1="336.3" y1="231.1" x2="339.5" y2="226.3" stroke="#1a1a1a" stroke-width="0.9"/>
<polyline points="305.6,200.7 313,195.5 319.9,199.9 331.8,207 334.2,207.4" fill="none" stroke="#1a1a1a" stroke-width="1.1" stroke-linejoin="round" stroke-linecap="round"/>
<polyline points="339.1,208.8 338.7,211.4 340.6,216.4 341.4,208.1 354.7,206.6 366.6,213 379.9,210" fill="none" stroke="#1a1a1a" stroke-width="1.1" stroke-linejoin="round" stroke-linecap="round"/>
<polyline points="305.6,200.7 308.9,198.5 308.9,201.5 313,197.4 319.9,204.4 331.8,186.6" fill="none" stroke="#1a1a1a" stroke-width="1.1" stroke-linejoin="round" stroke-linecap="round"/>
<polyline points="339,153.2 337.8,184.4" fill="none" stroke="#1a1a1a" stroke-width="1.1" stroke-linejoin="round" stroke-linecap="round"/>
<polyline points="338.1,188.9 338.4,199.2" fill="none" stroke="#1a1a1a" stroke-width="1.1" stroke-linejoin="round" stroke-linecap="round"/>
<polyline points="305.6,200.5 308.9,200.7 313,210.7 319.9,203.6 331.8,186.6 334.2,185.9" fill="none" stroke="#1a1a1a" stroke-width="1.1" stroke-linejoin="round" stroke-linecap="round"/>
<polyline points="338.7,202.9 340.2,199.9 341.7,192.6 340.8,214" fill="none" stroke="#1a1a1a" stroke-width="1.1" stroke-linejoin="round" stroke-linecap="round"/>
<polyline points="320.2,203.8 331.6,186.9" fill="none" stroke="#1a1a1a" stroke-width="2" stroke-linejoin="round" stroke-linecap="round"/>
<rect x="303.8" y="198.9" width="3.6" height="3.6" fill="#1a1a1a"/>
<rect x="307.1" y="196.7" width="3.6" height="3.6" fill="#1a1a1a"/>
<rect x="307.1" y="199.7" width="3.6" height="3.6" fill="#1a1a1a"/>
<rect x="311.2" y="195.6" width="3.6" height="3.6" fill="#1a1a1a"/>
<rect x="318.1" y="202.6" width="3.6" height="3.6" fill="#1a1a1a"/>
<rect x="337.2" y="151.4" width="3.6" height="3.6" fill="#1a1a1a"/>
<polygon points="305.6,198.2 303.3,202.3 307.9,202.3" fill="#1a1a1a"/>
<polygon points="308.9,198.4 306.6,202.5 311.2,202.5" fill="#1a1a1a"/>
<polygon points="313,208.4 310.7,212.5 315.3,212.5" fill="#1a1a1a"/>
<polygon points="319.9,201.3 317.6,205.4 322.2,205.4" fill="#1a1a1a"/>
<polygon points="331.8,184.3 329.5,188.4 334.1,188.4" fill="#1a1a1a"/>
<polygon points="338.7,200.6 336.4,204.7 341,204.7" fill="#1a1a1a"/>
<polygon points="340.2,197.6 337.9,201.7 342.5,201.7" fill="#1a1a1a"/>
<polygon points="341.7,190.3 339.4,194.4 344,194.4" fill="#1a1a1a"/>
<circle cx="313" cy="195.5" r="1.8" fill="#fff" stroke="#1a1a1a" stroke-width="0.9"/>
<circle cx="319.9" cy="199.9" r="1.8" fill="#fff" stroke="#1a1a1a" stroke-width="0.9"/>
<circle cx="331.8" cy="207" r="1.8" fill="#fff" stroke="#1a1a1a" stroke-width="0.9"/>
<circle cx="339.1" cy="208.8" r="1.8" fill="#fff" stroke="#1a1a1a" stroke-width="0.9"/>
<circle cx="338.7" cy="211.4" r="1.8" fill="#fff" stroke="#1a1a1a" stroke-width="0.9"/>
<circle cx="340.6" cy="216.4" r="1.8" fill="#fff" stroke="#1a1a1a" stroke-width="0.9"/>
<circle cx="341.4" cy="208.1" r="1.8" fill="#fff" stroke="#1a1a1a" stroke-width="0.9"/>
<circle cx="354.7" cy="206.6" r="1.8" fill="#fff" stroke="#1a1a1a" stroke-width="0.9"/>
<circle cx="366.6" cy="213" r="1.8" fill="#fff" stroke="#1a1a1a" stroke-width="0.9"/>
<circle cx="379.9" cy="210" r="1.8" fill="#fff" stroke="#1a1a1a" stroke-width="0.9"/>
<circle cx="357.1" cy="159.7" r="1.6" fill="#fff" stroke="#1a1a1a" stroke-width="0.9"/>
<text x="368.2" y="161.9" font-size="6.6" text-anchor="start" stroke-width="0.3">G08</text>
<rect x="355.6" y="167.1" width="3.1" height="3.1" fill="#1a1a1a"/>
<text x="368.2" y="171.2" font-size="6.6" text-anchor="start" stroke-width="0.3">G18</text>
<polygon points="357.1,175.7 355.1,179.3 359.1,179.3" fill="#1a1a1a"/>
<text x="368.2" y="180.4" font-size="6.6" text-anchor="start" stroke-width="0.3">G42</text>
<text transform="translate(341.7,141.5) scale(1.035,1)" font-size="9.76" text-anchor="middle" stroke-width="0.4">BUN</text>
<text x="265.5" y="138.8" font-size="13.3" text-anchor="start" stroke-width="0.5">G</text>
<text transform="translate(273.9,192.2) rotate(-90) scale(1.075,1)" font-size="9.86" text-anchor="middle" stroke-width="0.4">BUN (mg/dL)</text>
<rect x="437.1" y="166.9" width="77.8" height="41.6" fill="#b9b9b9"/>
<rect x="437.1" y="151.1" width="77.8" height="77.5" fill="none" stroke="#1a1a1a" stroke-width="1"/>
<line x1="433.1" y1="151.1" x2="437.1" y2="151.1" stroke="#1a1a1a" stroke-width="1"/>
<text x="428.2" y="154" font-size="8.6" text-anchor="end" stroke-width="0.3">2.0</text>
<line x1="433.1" y1="170.5" x2="437.1" y2="170.5" stroke="#1a1a1a" stroke-width="1"/>
<text x="428.2" y="173.4" font-size="8.6" text-anchor="end" stroke-width="0.3">1.5</text>
<line x1="433.1" y1="189.9" x2="437.1" y2="189.9" stroke="#1a1a1a" stroke-width="1"/>
<text x="428.2" y="192.8" font-size="8.6" text-anchor="end" stroke-width="0.3">1.0</text>
<line x1="433.1" y1="209.2" x2="437.1" y2="209.2" stroke="#1a1a1a" stroke-width="1"/>
<text x="428.2" y="212.1" font-size="8.6" text-anchor="end" stroke-width="0.3">0.5</text>
<line x1="433.1" y1="228.6" x2="437.1" y2="228.6" stroke="#1a1a1a" stroke-width="1"/>
<text x="428.2" y="231.5" font-size="8.6" text-anchor="end" stroke-width="0.3">0.0</text>
<line x1="437.1" y1="228.6" x2="437.1" y2="232.4" stroke="#1a1a1a" stroke-width="1"/>
<text x="437.1" y="244.9" font-size="8.6" text-anchor="middle" stroke-width="0.3">0</text>
<line x1="444.4" y1="228.6" x2="444.4" y2="232.4" stroke="#1a1a1a" stroke-width="1"/>
<text x="444.4" y="244.9" font-size="8.6" text-anchor="middle" stroke-width="0.3">2</text>
<line x1="452" y1="228.6" x2="452" y2="232.4" stroke="#1a1a1a" stroke-width="1"/>
<text x="452" y="244.9" font-size="8.6" text-anchor="middle" stroke-width="0.3">4</text>
<line x1="459.3" y1="228.6" x2="459.3" y2="232.4" stroke="#1a1a1a" stroke-width="1"/>
<text x="459.3" y="244.9" font-size="8.6" text-anchor="middle" stroke-width="0.3">6</text>
<line x1="490.4" y1="228.6" x2="490.4" y2="232.4" stroke="#1a1a1a" stroke-width="1"/>
<text x="490.4" y="244.9" font-size="8.6" text-anchor="middle" stroke-width="0.3">150</text>
<line x1="512.3" y1="228.6" x2="512.3" y2="232.4" stroke="#1a1a1a" stroke-width="1"/>
<text x="512.3" y="244.9" font-size="8.6" text-anchor="middle" stroke-width="0.3">300</text>
<rect x="465.9" y="227.4" width="5" height="2.4" fill="#fff"/>
<line x1="465.2" y1="231.2" x2="468.4" y2="226.4" stroke="#1a1a1a" stroke-width="0.9"/>
<line x1="467.8" y1="231.2" x2="471" y2="226.4" stroke="#1a1a1a" stroke-width="0.9"/>
<polyline points="437.2,209.3 440.9,212.9 444.6,216.6 451.9,217.2 463,220.7 465.6,221" fill="none" stroke="#1a1a1a" stroke-width="1.1" stroke-linejoin="round" stroke-linecap="round"/>
<polyline points="471.9,220.7 472.6,212.9 485.9,201.1 498.1,193.8 511.5,189.6" fill="none" stroke="#1a1a1a" stroke-width="1.1" stroke-linejoin="round" stroke-linecap="round"/>
<polyline points="437.2,209.2 440.9,209.2 444.6,212.9 451.9,217 468.2,195.2" fill="none" stroke="#1a1a1a" stroke-width="1.1" stroke-linejoin="round" stroke-linecap="round"/>
<polyline points="470.7,162.6 469.7,194.4" fill="none" stroke="#1a1a1a" stroke-width="1.1" stroke-linejoin="round" stroke-linecap="round"/>
<polyline points="470.7,216.6 471.2,219" fill="none" stroke="#1a1a1a" stroke-width="1.1" stroke-linejoin="round" stroke-linecap="round"/>
<polyline points="437.2,209.2 440.9,209.2 444.6,204.8 451.9,204.8 463.8,216.6 466.3,217.4" fill="none" stroke="#1a1a1a" stroke-width="1.1" stroke-linejoin="round" stroke-linecap="round"/>
<polyline points="471,215.5 474.1,220.7" fill="none" stroke="#1a1a1a" stroke-width="1.1" stroke-linejoin="round" stroke-linecap="round"/>
<rect x="435.4" y="207.4" width="3.6" height="3.6" fill="#1a1a1a"/>
<rect x="439.1" y="207.4" width="3.6" height="3.6" fill="#1a1a1a"/>
<rect x="442.8" y="211.1" width="3.6" height="3.6" fill="#1a1a1a"/>
<rect x="450.1" y="215.2" width="3.6" height="3.6" fill="#1a1a1a"/>
<rect x="468.9" y="160.8" width="3.6" height="3.6" fill="#1a1a1a"/>
<rect x="468.9" y="214.8" width="3.6" height="3.6" fill="#1a1a1a"/>
<rect x="469.4" y="217.2" width="3.6" height="3.6" fill="#1a1a1a"/>
<polygon points="437.2,206.9 434.9,211 439.5,211" fill="#1a1a1a"/>
<polygon points="440.9,206.9 438.6,211 443.2,211" fill="#1a1a1a"/>
<polygon points="444.6,202.5 442.3,206.6 446.9,206.6" fill="#1a1a1a"/>
<polygon points="451.9,202.5 449.6,206.6 454.2,206.6" fill="#1a1a1a"/>
<polygon points="463.8,214.3 461.5,218.4 466.1,218.4" fill="#1a1a1a"/>
<polygon points="471,213.2 468.7,217.3 473.3,217.3" fill="#1a1a1a"/>
<polygon points="474.1,218.4 471.8,222.5 476.4,222.5" fill="#1a1a1a"/>
<circle cx="440.9" cy="212.9" r="1.8" fill="#fff" stroke="#1a1a1a" stroke-width="0.9"/>
<circle cx="444.6" cy="216.6" r="1.8" fill="#fff" stroke="#1a1a1a" stroke-width="0.9"/>
<circle cx="451.9" cy="217.2" r="1.8" fill="#fff" stroke="#1a1a1a" stroke-width="0.9"/>
<circle cx="463" cy="220.7" r="1.8" fill="#fff" stroke="#1a1a1a" stroke-width="0.9"/>
<circle cx="471.9" cy="220.7" r="1.8" fill="#fff" stroke="#1a1a1a" stroke-width="0.9"/>
<circle cx="472.6" cy="212.9" r="1.8" fill="#fff" stroke="#1a1a1a" stroke-width="0.9"/>
<circle cx="485.9" cy="201.1" r="1.8" fill="#fff" stroke="#1a1a1a" stroke-width="0.9"/>
<circle cx="498.1" cy="193.8" r="1.8" fill="#fff" stroke="#1a1a1a" stroke-width="0.9"/>
<circle cx="511.5" cy="189.6" r="1.8" fill="#fff" stroke="#1a1a1a" stroke-width="0.9"/>
<circle cx="489.4" cy="158.3" r="1.6" fill="#fff" stroke="#1a1a1a" stroke-width="0.9"/>
<text x="500.5" y="160.6" font-size="6.6" text-anchor="start" stroke-width="0.3">G08</text>
<rect x="487.8" y="165.8" width="3.1" height="3.1" fill="#1a1a1a"/>
<text x="500.5" y="169.8" font-size="6.6" text-anchor="start" stroke-width="0.3">G18</text>
<polygon points="489.4,174.3 487.4,177.9 491.4,177.9" fill="#1a1a1a"/>
<text x="500.5" y="179.1" font-size="6.6" text-anchor="start" stroke-width="0.3">G42</text>
<text transform="translate(475,141.5) scale(1.035,1)" font-size="9.76" text-anchor="middle" stroke-width="0.4">Creatinine</text>
<text x="398.5" y="138.8" font-size="13.3" text-anchor="start" stroke-width="0.5">H</text>
<text transform="translate(404.9,190.3) rotate(-90) scale(1.075,1)" font-size="9.86" text-anchor="middle" stroke-width="0.4">Creatinine (mg/dL)</text>
<text transform="translate(276.3,267.1) scale(1.075,1)" font-size="11.07" text-anchor="middle" stroke-width="0.4">Days after Transduction</text>
</svg>
</body>
</html>
